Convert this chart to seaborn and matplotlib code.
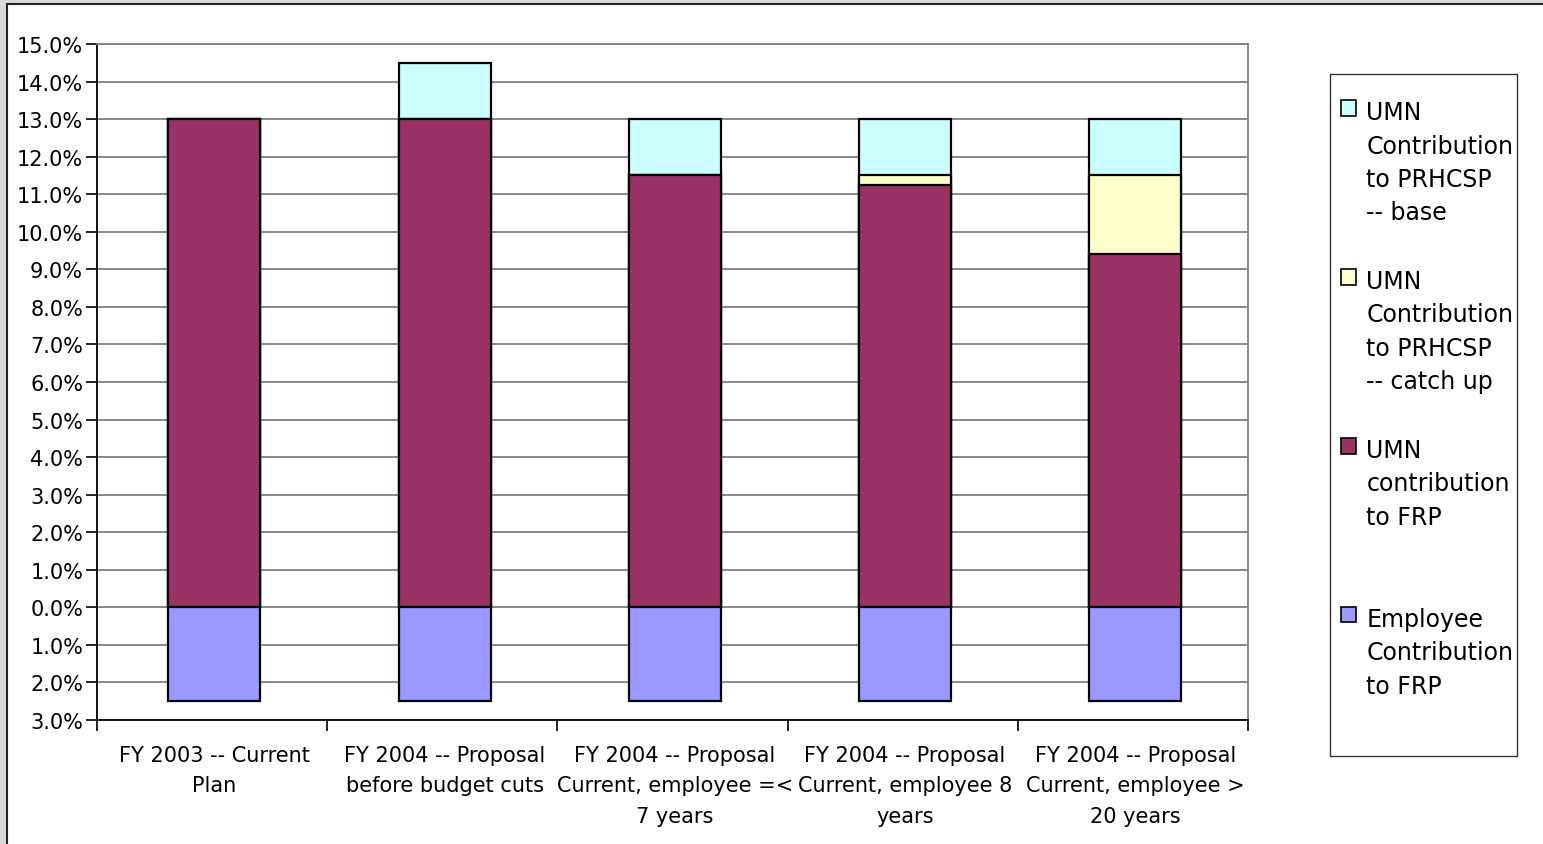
import matplotlib
matplotlib.use("Agg")
import matplotlib.pyplot as plt
from matplotlib.patches import Patch, Rectangle
from matplotlib.ticker import FuncFormatter, MultipleLocator
import pandas as pd
import seaborn as sns

# data (percent of salary)
categories = [
    "FY 2003 -- Current\nPlan",
    "FY 2004 -- Proposal\nbefore budget cuts",
    "FY 2004 -- Proposal\nCurrent, employee =<\n7 years",
    "FY 2004 -- Proposal\nCurrent, employee 8\nyears",
    "FY 2004 -- Proposal\nCurrent, employee >\n20 years",
]
employee_frp = [-2.5, -2.5, -2.5, -2.5, -2.5]
umn_frp = [13.0, 13.0, 11.5, 11.25, 9.4]
prhcsp_catchup = [0.0, 0.0, 0.0, 0.25, 2.1]
prhcsp_base = [0.0, 1.5, 1.5, 1.5, 1.5]

legend_labels = [
    "UMN\nContribution\nto PRHCSP\n-- base",
    "UMN\nContribution\nto PRHCSP\n-- catch up",
    "UMN\ncontribution\nto FRP",
    "Employee\nContribution\nto FRP",
]
colors = ["#CCFFFF", "#FFFFCC", "#993366", "#9999FF"]

df = pd.DataFrame({
    "category": categories,
    "employee": employee_frp,
    "frp": umn_frp,
    "catchup": prhcsp_catchup,
    "base": prhcsp_base,
})
# cumulative tops for the stacked look
df["frp_catch"] = df["frp"] + df["catchup"]
df["total"] = df["frp_catch"] + df["base"]

sns.set_theme(style="white")
plt.rcParams['font.family'] = ['DejaVu Sans']
plt.rcParams['text.color'] = 'black'
plt.rcParams['xtick.labelcolor'] = 'black'
plt.rcParams['ytick.labelcolor'] = 'black'

W, H = 1543, 845
fig = plt.figure(figsize=(W / 100, H / 100), dpi=100)
fig.patch.set_facecolor("#d9d9d9")
# white chart area with dark border
fig.add_artist(Rectangle((7 / W, -0.02), 1.0, 1 - 5 / H + 0.02, transform=fig.transFigure,
                         facecolor="white", edgecolor="#222222", lw=1.5, zorder=0))

ax = fig.add_axes([97 / W, 1 - 721 / H, (1248 - 97) / W, (721 - 45) / H])
ax.set_facecolor("white")
ax.set_zorder(2)

bar_kw = dict(x="category", order=categories, width=0.4, saturation=1, errorbar=None,
              edgecolor="black", linewidth=1.6, ax=ax)
sns.barplot(data=df, y="total", color=colors[0], **bar_kw)
sns.barplot(data=df, y="frp_catch", color=colors[1], **bar_kw)
sns.barplot(data=df, y="frp", color=colors[2], **bar_kw)
sns.barplot(data=df, y="employee", color=colors[3], **bar_kw)

ax.set_ylim(-3, 15)
ax.set_xlim(-0.51, 4.49)
ax.yaxis.set_major_locator(MultipleLocator(1))
ax.yaxis.set_major_formatter(FuncFormatter(lambda v, p: f"{abs(v):.1f}%"))
ax.yaxis.grid(True, color="#808080", lw=1.3)
ax.set_axisbelow(True)
ax.set_xlabel("")
ax.set_ylabel("")

ax.tick_params(axis="y", which="major", direction="out", length=8, width=1.2,
               color="black", labelsize=15, pad=2, left=True, labelcolor="black")
ax.tick_params(axis="x", which="major", length=0, labelsize=15, pad=18, labelcolor="black")
ax.set_xticks([i - 0.51 for i in range(6)], minor=True)
ax.tick_params(axis="x", which="minor", direction="out", length=8, width=1.2,
               color="black", bottom=True)
for t in ax.get_xticklabels():
    t.set_linespacing(1.65)

for side in ["left", "bottom"]:
    ax.spines[side].set_color("black")
    ax.spines[side].set_linewidth(1.3)
for side in ["top", "right"]:
    ax.spines[side].set_color("#808080")
    ax.spines[side].set_linewidth(1.3)

# legend box
fig.add_artist(Rectangle((1330 / W, 1 - 757 / H), (1517 - 1330) / W, (757 - 75) / H,
                         transform=fig.transFigure, facecolor="white",
                         edgecolor="#333333", lw=1.0, zorder=1))
handles = [Patch(facecolor=c, edgecolor="black", lw=1.2) for c in colors]
padded = [l + "\n " * (3 - l.count("\n")) for l in legend_labels]
leg = ax.legend(handles, padded, loc="upper left", bbox_to_anchor=(1341 / W, 1 - 101 / H),
                bbox_transform=fig.transFigure, frameon=False, fontsize=17,
                handlelength=0.65, handleheight=0.65, handletextpad=0.42,
                labelspacing=1.88, borderpad=0, borderaxespad=0)
for t in leg.get_texts():
    t.set_linespacing(1.5)
    t.set_color("black")
for col in leg._legend_handle_box.get_children():
    for item in col.get_children():
        item.align = "top"

fig.savefig("out.png", dpi=100, facecolor=fig.get_facecolor())
